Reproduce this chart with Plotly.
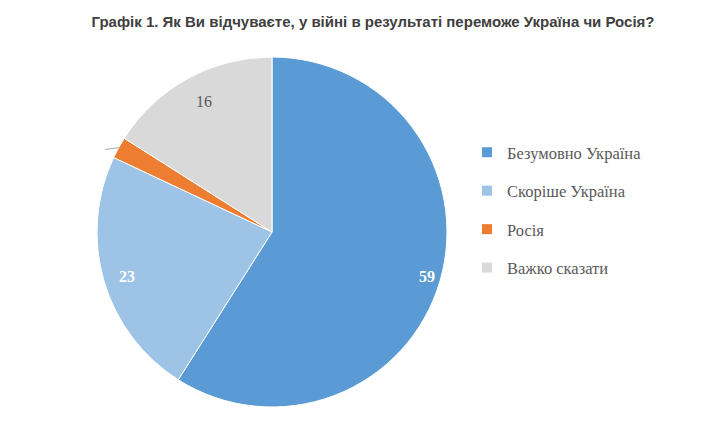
import math
import plotly.graph_objects as go

# Survey answers, share of respondents (%)
answers = ["Безумовно Україна", "Скоріше Україна", "Росія", "Важко сказати"]
shares = [59, 23, 2, 16]
colors = ["#5B9BD5", "#9DC3E6", "#ED7D31", "#D9D9D9"]
label_colors = ["#FFFFFF", "#FFFFFF", "#595959", "#595959"]
label_bold = [True, True, False, False]
show_label = [True, True, False, True]

W, H = 720, 424
# the page adds an 8px body margin, so pixel positions below are offset by it
cx, cy, r = 264, 224, 175

fig = go.Figure()
fig.add_trace(
    go.Pie(
        labels=answers,
        values=shares,
        sort=False,
        direction="clockwise",
        rotation=0,
        textinfo="none",
        marker=dict(colors=colors, line=dict(color="white", width=1)),
        domain=dict(x=[(cx - r) / W, (cx + r) / W], y=[(H - cy - r) / H, (H - cy + r) / H]),
        showlegend=False,
        hoverinfo="label+value",
    )
)

# Legend entries as dummy traces so the item spacing can be opened up
for i, (name, col) in enumerate(zip(answers, colors)):
    fig.add_trace(
        go.Scatter(
            x=[None],
            y=[None],
            mode="markers",
            name=name,
            legendgroup=f"g{i}",
            marker=dict(symbol="square", size=10, color=col),
        )
    )

# Value labels near the outer edge of each slice (like Excel's "inside end")
total = sum(shares)
start = 0.0
for val, col, bold, show in zip(shares, label_colors, label_bold, show_label):
    mid = (start + val / 2) / total * 2 * math.pi
    start += val
    if show:
        px_x = cx + 0.92 * r * math.sin(mid)
        px_y = cy - 0.92 * r * math.cos(mid)
        fig.add_annotation(
            x=px_x / W,
            y=(H - px_y) / H,
            xref="paper",
            yref="paper",
            text=f"<b>{val}</b>" if bold else str(val),
            showarrow=False,
            font=dict(family="Liberation Serif", size=16, color=col),
        )
    else:
        # small outside label with leader line (label text itself not shown)
        px_x = cx + r * math.sin(mid)
        px_y = cy - r * math.cos(mid)
        fig.add_annotation(
            x=px_x / W,
            y=(H - px_y) / H,
            xref="paper",
            yref="paper",
            text="",
            showarrow=True,
            arrowhead=0,
            arrowwidth=1,
            arrowcolor="#A6A6A6",
            ax=-15,
            ay=2,
        )

fig.update_xaxes(visible=False)
fig.update_yaxes(visible=False)
fig.update_layout(
    width=W,
    height=H,
    margin=dict(l=0, r=0, t=0, b=0),
    paper_bgcolor="white",
    plot_bgcolor="white",
    title=dict(
        text="<b>Графік 1. Як Ви відчуваєте, у війні в результаті переможе Україна чи Росія?</b>",
        x=365 / W,
        xanchor="center",
        y=1 - 14 / H,
        yanchor="middle",
        font=dict(family="Liberation Sans", size=15, color="#404040"),
    ),
    legend=dict(
        x=459 / W,
        y=1 - 127 / H,
        xanchor="left",
        yanchor="top",
        itemwidth=30,
        tracegroupgap=14,
        font=dict(family="Liberation Serif", size=16.5, color="#595959"),
        bgcolor="rgba(0,0,0,0)",
    ),
)

fig.write_html("out.html")
